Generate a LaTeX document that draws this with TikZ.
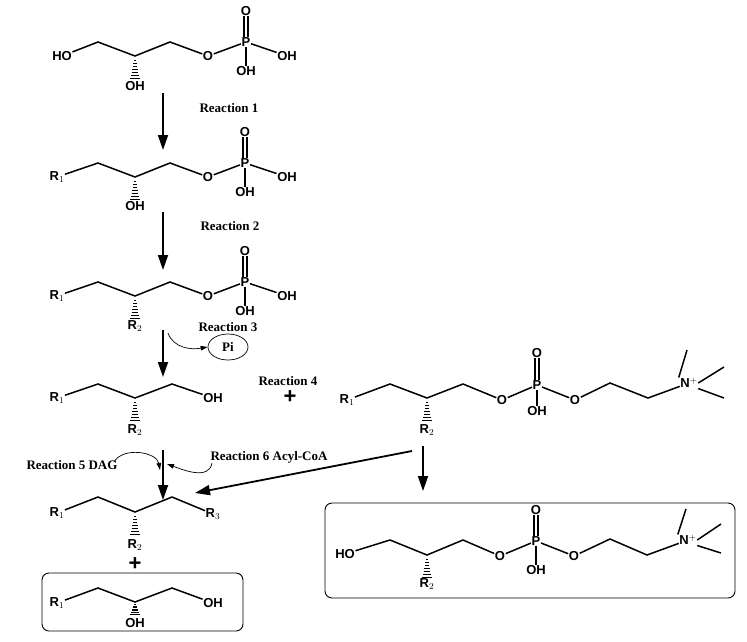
\documentclass[tikz,border=0pt]{standalone}
\usepackage{fontspec}
\setmainfont{Liberation Sans}
\newfontfamily\rxfont{Liberation Serif}
\usetikzlibrary{arrows.meta,shapes.geometric}
\tikzset{
 atm/.style={inner sep=0.5pt,font=\bfseries\fontsize{13}{14}\selectfont},
 bd/.style={line width=1.5pt},
 rx/.style={font=\rxfont\bfseries\fontsize{13}{14}\selectfont,inner sep=0},
 arr/.style={line width=1.8pt,-{Triangle[length=15pt,width=10pt]}},
 carr/.style={line width=0.7pt,-{Triangle[length=7pt,width=4.5pt]}},
 box/.style={rounded corners=7pt,line width=0.9pt}
}
\newcommand\hw[3]{% x y length
 \foreach \i in {1,...,7}{\pgfmathsetmacro\dy{#2+\i*#3/7}\pgfmathsetmacro\dx{0.4+\i*0.6}
 \draw[line width=1pt] (#1-\dx,\dy) -- (#1+\dx,\dy);}}
\newcommand\dbl[2]{\draw[bd] ([xshift=-2pt]#1.south) -- ([xshift=-2pt]#2.north); \draw[bd] ([xshift=2pt]#1.south) -- ([xshift=2pt]#2.north);}
\begin{document}
\begin{tikzpicture}[x=1pt,y=-1pt]
\useasboundingbox (0,0) rectangle (747,641);
% molecule 1
\node[atm] (a1) at (62,56) {HO};
\coordinate (a2) at (98,42); \coordinate (a3) at (135,56); \coordinate (a4) at (170,42);
\node[atm] (a5) at (208,56) {O}; \node[atm] (a6) at (246,42) {P};
\node[atm] (a7) at (246,11) {O}; \node[atm] (a8) at (287,56) {OH}; \node[atm] (a9) at (246,71) {OH};
\node[atm] (a10) at (135,86) {OH};
\draw[bd] (a1) -- (a2) -- (a3) -- (a4) -- (a5) -- (a6) -- (a8); \draw[bd] (a6)--(a9); \dbl{a7}{a6}
\hw{135}{57}{21}
% molecule 2
\node[atm] (b1) at (57,177) {R$_1$};
\coordinate (b2) at (98,163); \coordinate (b3) at (135,177); \coordinate (b4) at (170,163);
\node[atm] (b5) at (208,177) {O}; \node[atm] (b6) at (245,163) {P};
\node[atm] (b7) at (245,132) {O}; \node[atm] (b8) at (287,177) {OH}; \node[atm] (b9) at (245,192) {OH};
\node[atm] (b10) at (135,206) {OH};
\draw[bd] (b1) -- (b2) -- (b3) -- (b4) -- (b5) -- (b6) -- (b8); \draw[bd] (b6)--(b9); \dbl{b7}{b6}
\hw{135}{178}{21}
% molecule 3
\node[atm] (c1) at (57,296) {R$_1$};
\coordinate (c2) at (98,282); \coordinate (c3) at (135,296); \coordinate (c4) at (170,282);
\node[atm] (c5) at (208,296) {O}; \node[atm] (c6) at (245,282) {P};
\node[atm] (c7) at (245,251) {O}; \node[atm] (c8) at (287,296) {OH}; \node[atm] (c9) at (245,311) {OH};
\node[atm] (c10) at (135,326) {R$_2$};
\draw[bd] (c1) -- (c2) -- (c3) -- (c4) -- (c5) -- (c6) -- (c8); \draw[bd] (c6)--(c9); \dbl{c7}{c6}
\hw{135}{297}{21}
% molecule 4
\node[atm] (d1) at (57,398) {R$_1$};
\coordinate (d2) at (98,384); \coordinate (d3) at (135,398); \coordinate (d4) at (172,384);
\node[atm] (d5) at (213,398) {OH}; \node[atm] (d10) at (135,430) {R$_2$};
\draw[bd] (d1) -- (d2) -- (d3) -- (d4) -- (d5); \hw{135}{399}{21}
\node[atm,font=\bfseries\fontsize{22}{22}\selectfont] (plus1) at (290,397) {+};
% molecule PC
\node[atm] (e1) at (347,400) {R$_1$};
\coordinate (e2) at (390,384); \coordinate (e3) at (427,398); \coordinate (e4) at (463,384);
\node[atm] (e5) at (502,400) {O}; \node[atm] (e6) at (537,385) {P};
\node[atm] (e7) at (537,353) {O}; \node[atm] (e9) at (537,411) {OH};
\node[atm] (e11) at (575,400) {O}; \coordinate (e12) at (610,383); \coordinate (e13) at (648,398);
\node[atm] (e14) at (689,383) {N$^{+}$};
\coordinate (m1) at (687,350); \coordinate (m2) at (724,367); \coordinate (m3) at (724,398);
\node[atm] (e10) at (427,430) {R$_2$};
\draw[bd] (e1) -- (e2) -- (e3) -- (e4) -- (e5) -- (e6) -- (e11) -- (e12) -- (e13) -- (e14);
\draw[bd] (e6)--(e9); \dbl{e7}{e6} \hw{427}{399}{21}
\draw[bd] (e14.north west) ++(-1,0) -- (m1); \draw[bd] (e14.east) -- (m2); \draw[bd] (e14.south east) -- (m3);
% box lysoPC
\draw[box] (325,503) rectangle (735,598);
\node[atm] (f1) at (345,554) {HO};
\coordinate (f2) at (390,540); \coordinate (f3) at (427,555); \coordinate (f4) at (463,540);
\node[atm] (f5) at (500,556) {O}; \node[atm] (f6) at (536,541) {P};
\node[atm] (f7) at (536,510) {O}; \node[atm] (f9) at (536,570) {OH};
\node[atm] (f11) at (574,556) {O}; \coordinate (f12) at (610,539); \coordinate (f13) at (647,555);
\node[atm] (f14) at (688,540) {N$^{+}$};
\coordinate (n1) at (686,509); \coordinate (n2) at (721,524); \coordinate (n3) at (721,553);
\node[atm] (f10) at (427,584) {R$_2$};
\draw[bd] (f1) -- (f2) -- (f3) -- (f4) -- (f5) -- (f6) -- (f11) -- (f12) -- (f13) -- (f14);
\draw[bd] (f6)--(f9); \dbl{f7}{f6} \hw{427}{556}{21}
\draw[bd] (f14.north west) ++(-1,0) -- (n1); \draw[bd] (f14.east) -- (n2); \draw[bd] (f14.south east) -- (n3);
% molecule 5 (TAG)
\node[atm] (g1) at (57,513) {R$_1$};
\coordinate (g2) at (98,497); \coordinate (g3) at (135,512); \coordinate (g4) at (172,497);
\node[atm] (g5) at (213,514) {R$_3$}; \node[atm] (g10) at (135,545) {R$_2$};
\draw[bd] (g1) -- (g2) -- (g3) -- (g4) -- (g5); \hw{135}{513}{21}
\node[atm,font=\bfseries\fontsize{22}{22}\selectfont] (plus2) at (135,564) {+};
% box MAG
\draw[box] (42,573) rectangle (243,631);
\node[atm] (h1) at (57,603) {R$_1$};
\coordinate (h2) at (98,588); \coordinate (h3) at (135,602); \coordinate (h4) at (172,588);
\node[atm] (h5) at (213,603) {OH}; \node[atm] (h10) at (135,623) {OH};
\draw[bd] (h1) -- (h2) -- (h3) -- (h4) -- (h5); \hw{135}{603}{11}
% arrows
\coordinate (r1s) at (163,93); \coordinate (r1e) at (163,150);
\coordinate (r2s) at (163,212); \coordinate (r2e) at (163,270);
\coordinate (r3s) at (163,330); \coordinate (r3e) at (163,377);
\coordinate (r5s) at (163,450); \coordinate (r5e) at (163,500);
\coordinate (r4s) at (423,446); \coordinate (r4e) at (423,491);
\coordinate (r6s) at (412,451); \coordinate (r6e) at (195,493);
\draw[arr] (r1s) -- (r1e); \draw[arr] (r2s) -- (r2e); \draw[arr] (r3s) -- (r3e);
\draw[arr] (r5s) -- (r5e); \draw[arr] (r4s) -- (r4e); \draw[arr] (r6s) -- (r6e);
\node[rx] (l1) at (229,108) {Reaction 1};
\node[rx] (l2) at (230,226) {Reaction 2};
\node[rx] (l3) at (228,327) {Reaction 3};
\node[rx] (l4) at (288,381) {Reaction 4};
\node[rx] (l5) at (72,465) {Reaction 5 DAG};
\node[rx] (l6) at (269,457) {Reaction 6 Acyl-CoA};
\node[ellipse,draw,line width=0.7pt,minimum width=40pt,minimum height=26pt,inner sep=0,font=\rxfont\bfseries\fontsize{13}{14}\selectfont] (pi) at (228,347) {Pi};
\coordinate (c3a) at (168,333);
\draw[carr] (c3a) to[out=-70,in=190] (pi.west);
\coordinate (c5a) at (114,462); \coordinate (c5b) at (160,470);
\draw[carr] (c5a) to[out=60,in=100] (c5b);
\coordinate (c6a) at (212,463); \coordinate (c6b) at (167,464);
\draw[carr] (c6a) to[out=-100,in=-20] (c6b);
\end{tikzpicture}
\end{document}
